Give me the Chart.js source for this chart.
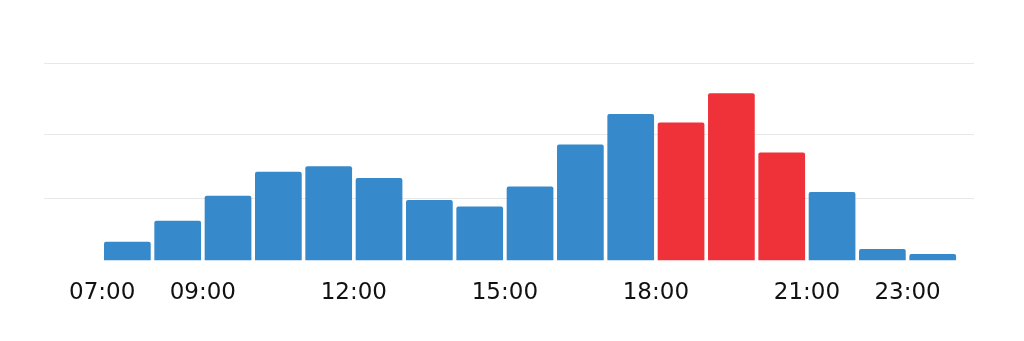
<!DOCTYPE html>
<html>
<head>
<meta charset="utf-8">
<script src="https://cdn.jsdelivr.net/npm/chart.js@4.4.1/dist/chart.umd.min.js"></script>
<style>
  html, body { margin: 0; padding: 0; background: #fff; }
  #wrap { width: 1024px; height: 341px; }
</style>
</head>
<body>
<div id="wrap"><canvas id="hoursChart"></canvas></div>
<script>
// hour of each bar and its relative busyness
const hours = [7, 8, 9, 10, 11, 12, 13, 14, 15, 16, 17, 18, 19, 20, 21, 22, 23]
const busyness = [9.5, 20.1, 32.7, 44.9, 47.7, 41.8, 30.6, 27.3, 37.4, 58.7, 74.2, 69.8, 84.7, 54.6, 34.7, 5.8, 3.2]
const peakHours = [18, 19, 20]
const shownHours = [7, 9, 12, 15, 18, 21, 23]
const gridValues = [31.2, 63.9, 100]

const blue = 'rgb(54, 137, 202)'
const red = 'rgb(239, 49, 58)'

const data = {
  datasets: [{
    // bar sits in the middle of its hour slot
    data: hours.map((h, i) => ({ x: h + 0.5, y: busyness[i] })),
    backgroundColor: ctx => peakHours.includes(hours[ctx.dataIndex]) ? red : blue,
    borderWidth: 0,
    borderRadius: { topLeft: 2, topRight: 2 },
    borderSkipped: 'bottom',
    categoryPercentage: 1,
    barPercentage: 0.928
  }]
};

const config = {
  type: 'bar',
  data: data,
  options: {
    responsive: true,
    maintainAspectRatio: false,
    animation: false,
    layout: {
      padding: { left: 44, right: 50, top: 63, bottom: 15 }
    },
    scales: {
      x: {
        type: 'linear',
        offset: false,
        min: 5.844,
        max: 24.32,
        afterBuildTicks: scale => {
          scale.ticks = shownHours.map(h => ({ value: h }))
        },
        grid: { display: false, drawTicks: false },
        border: { display: false },
        ticks: {
          autoSkip: false,
          maxRotation: 0,
          padding: 19,
          color: '#111',
          font: { family: 'DejaVu Sans', size: 23 },
          callback: v => String(v).padStart(2, '0') + ':00'
        }
      },
      y: {
        min: 0,
        max: 100,
        afterBuildTicks: scale => {
          scale.ticks = gridValues.map(v => ({ value: v }))
        },
        grid: { color: '#e8e8e8', lineWidth: 1, drawTicks: false },
        border: { display: false },
        ticks: { display: false }
      }
    },
    plugins: {
      legend: { display: false },
      tooltip: { enabled: false }
    }
  }
};

var myChart = new Chart(
  document.getElementById('hoursChart'),
  config
);
</script>
</body>
</html>
